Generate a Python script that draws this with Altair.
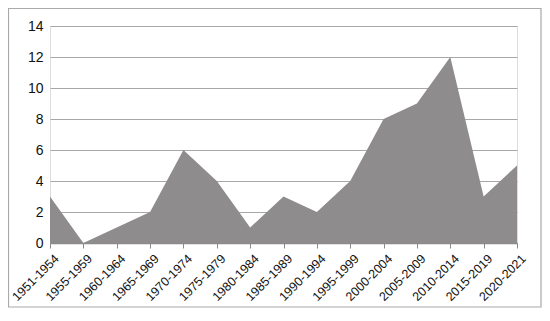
import altair as alt
import pandas as pd

periods = ["1951-1954", "1955-1959", "1960-1964", "1965-1969", "1970-1974",
           "1975-1979", "1980-1984", "1985-1989", "1990-1994", "1995-1999",
           "2000-2004", "2005-2009", "2010-2014", "2015-2019", "2020-2021"]
counts = [3, 0, 1, 2, 6, 4, 1, 3, 2, 4, 8, 9, 12, 3, 5]
y_ticks = [0, 2, 4, 6, 8, 10, 12, 14]

df = pd.DataFrame({"period": periods, "count": counts})

FONT = "Liberation Sans"

area = alt.Chart(df).mark_area(color="#8e8c8d", opacity=1, line=False).encode(
    x=alt.X("period:N", sort=periods, title=None,
            scale=alt.Scale(type="point", padding=0),
            axis=alt.Axis(labelAngle=315, labelAlign="right", labelBaseline="top",
                          labelFont=FONT, labelFontSize=12.5, labelColor="#111111",
                          domainColor="#8a8a8a", domainWidth=1.5,
                          tickColor="#8a8a8a", tickSize=5, tickWidth=1,
                          labelPadding=4, labelOffset=2, labelOverlap=False,
                          labelBound=False, grid=False)),
    y=alt.Y("count:Q", title=None,
            scale=alt.Scale(domain=[0, 14], nice=False),
            axis=alt.Axis(values=y_ticks, labelFont=FONT, labelFontSize=14,
                          labelColor="#111111", domain=False, ticks=False,
                          labelPadding=7, grid=True, gridColor="#a8a8a8",
                          gridWidth=1.2)),
)

border = alt.Chart(pd.DataFrame({"k": [0]})).mark_rect(
    fill=None, stroke="#a9a9a9", strokeWidth=1.2
).encode(
    x=alt.value(-41.5), x2=alt.value(491), y=alt.value(-17.5), y2=alt.value(281)
)

chart = alt.layer(border, area).properties(
    width=467, height=217,
    autosize=alt.AutoSizeParams(type="none"),
    padding={"left": 42, "top": 18, "right": 25, "bottom": 65},
).configure_view(stroke=None).configure(background="white")

chart.save("out.html", embed_options={"renderer": "svg", "actions": False})
